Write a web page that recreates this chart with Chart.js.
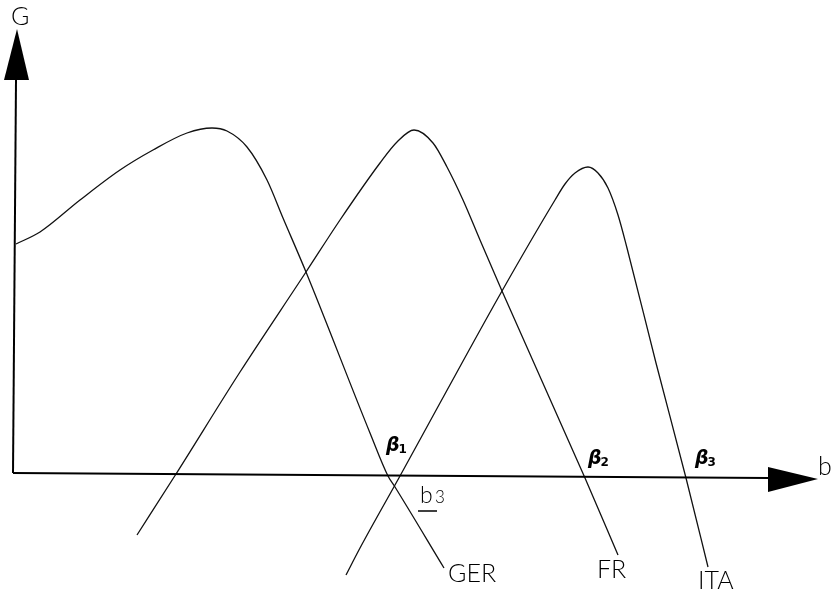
<!DOCTYPE html>
<html>
<head>
<meta charset="utf-8">
<script src="https://cdn.jsdelivr.net/npm/chart.js@4.4.1/dist/chart.umd.min.js"></script>
<style>
  html, body { margin: 0; padding: 0; background: #fff; }
  #wrap { width: 840px; height: 596px; position: relative; }
</style>
</head>
<body>
<div id="wrap"><canvas id="c"></canvas></div>
<script>
// Payoff curves G(b) for the three countries
const gerB = [0.2, 2.6, 6.6, 10.6, 13.9, 17.3, 19.8, 21.3, 23.3, 25.3, 26.9, 29.2, 35.6, 37.4, 38.1, 43.0];
const gerG = [23.2, 24.4, 27.6, 30.6, 32.6, 34.3, 34.8, 34.5, 32.9, 29.6, 25.8, 20.4, 4.3, 0.0, -1.1, -9.2];

const frB = [12.3, 16.2, 22.6, 29.2, 32.6, 36.6, 38.3, 40.0, 41.9, 43.3, 44.9, 46.6, 48.8, 57.1, 60.4];
const frG = [-5.9, 0.2, 10.4, 20.4, 25.6, 31.3, 33.4, 34.6, 33.3, 30.9, 27.6, 23.6, 18.5, -0.2, -7.9];

const itaB = [33.2, 34.6, 38.6, 42.6, 48.8, 54.1, 55.1, 56.1, 57.4, 58.4, 59.4, 60.4, 61.3, 64.2, 67.2, 69.4];
const itaG = [-9.9, -7.2, 0.0, 7.3, 18.5, 27.6, 29.2, 30.3, 30.9, 30.3, 28.8, 26.1, 22.8, 11.3, -0.2, -9.1];

const seriesNames = ["GER", "FR", "ITA"];
const axisNames = ["G", "b"];
const betaNames = ["1", "2", "3"];

function pts(xs, ys) { return xs.map((x, i) => ({ x: x, y: ys[i] })); }

const lineStyle = {
  borderColor: "#111",
  borderWidth: 1.3,
  pointRadius: 0,
  fill: false,
  cubicInterpolationMode: "monotone"
};

// Hand-drawn style axes with arrow heads plus the text annotations
const decorations = {
  id: "decorations",
  afterDatasetsDraw(chart) {
    const ctx = chart.ctx;
    const xs = chart.scales.x, ys = chart.scales.y;
    const X = v => xs.getPixelForValue(v);
    const Y = v => ys.getPixelForValue(v);
    ctx.save();
    ctx.strokeStyle = "#000";
    ctx.fillStyle = "#000";
    ctx.lineWidth = 2;
    ctx.lineCap = "butt";

    // vertical axis
    ctx.beginPath();
    ctx.moveTo(X(-0.1), Y(0.3));
    ctx.lineTo(X(0.2), Y(39.6));
    ctx.stroke();
    ctx.beginPath();
    ctx.moveTo(X(0.3), Y(44.7));
    ctx.lineTo(X(-1.0), Y(39.6));
    ctx.lineTo(X(1.5), Y(39.6));
    ctx.closePath();
    ctx.fill();

    // horizontal axis
    ctx.beginPath();
    ctx.moveTo(X(-0.1), Y(0.3));
    ctx.lineTo(X(75.4), Y(-0.2));
    ctx.stroke();
    ctx.beginPath();
    ctx.moveTo(X(80.4), Y(-0.3));
    ctx.lineTo(X(75.4), Y(0.9));
    ctx.lineTo(X(75.4), Y(-1.6));
    ctx.closePath();
    ctx.fill();

    // plain labels
    ctx.textBaseline = "alphabetic";
    ctx.textAlign = "left";
    ctx.font = "300 25px Lato, 'Liberation Sans', sans-serif";
    ctx.fillText(axisNames[0], X(-0.3), Y(45.1));
    ctx.fillText(axisNames[1], X(80.4), Y(0.1));
    ctx.fillText(seriesNames[0], X(43.4), Y(-10.6));
    ctx.fillText(seriesNames[1], X(58.3), Y(-10.2));
    ctx.fillText(seriesNames[2], X(68.4), Y(-11.3));

    // b3 with underline
    ctx.font = "300 23px Lato, 'Liberation Sans', sans-serif";
    ctx.fillText("b", X(40.6), Y(-2.7));
    ctx.font = "300 17px Lato, 'Liberation Sans', sans-serif";
    ctx.fillText("3", X(42.1), Y(-2.7));
    ctx.lineWidth = 1.5;
    ctx.beginPath();
    ctx.moveTo(X(40.4), Y(-3.5));
    ctx.lineTo(X(42.3), Y(-3.5));
    ctx.stroke();

    // beta thresholds
    const betaAt = [[37.2, 2.5], [57.4, 1.2], [68.1, 1.2]];
    betaAt.forEach((p, i) => {
      ctx.font = "italic bold 19px 'DejaVu Sans', sans-serif";
      ctx.fillText("\u03B2", X(p[0]), Y(p[1]));
      const w = ctx.measureText("\u03B2").width;
      ctx.font = "bold 12px 'DejaVu Sans', sans-serif";
      ctx.fillText(betaNames[i], X(p[0]) + w - 1, Y(p[1]) + 2);
    });
    ctx.restore();
  }
};

new Chart(document.getElementById("c"), {
  type: "line",
  data: {
    datasets: [
      Object.assign({ label: seriesNames[0], data: pts(gerB, gerG) }, lineStyle),
      Object.assign({ label: seriesNames[1], data: pts(frB, frG) }, lineStyle),
      Object.assign({ label: seriesNames[2], data: pts(itaB, itaG) }, lineStyle)
    ]
  },
  options: {
    responsive: true,
    maintainAspectRatio: false,
    animation: false,
    layout: { padding: 0 },
    plugins: { legend: { display: false }, tooltip: { enabled: false } },
    scales: {
      x: { type: "linear", min: -1.4, max: 82.6, display: false },
      y: { type: "linear", min: -12, max: 47.6, display: false }
    }
  },
  plugins: [decorations]
});
</script>
</body>
</html>
